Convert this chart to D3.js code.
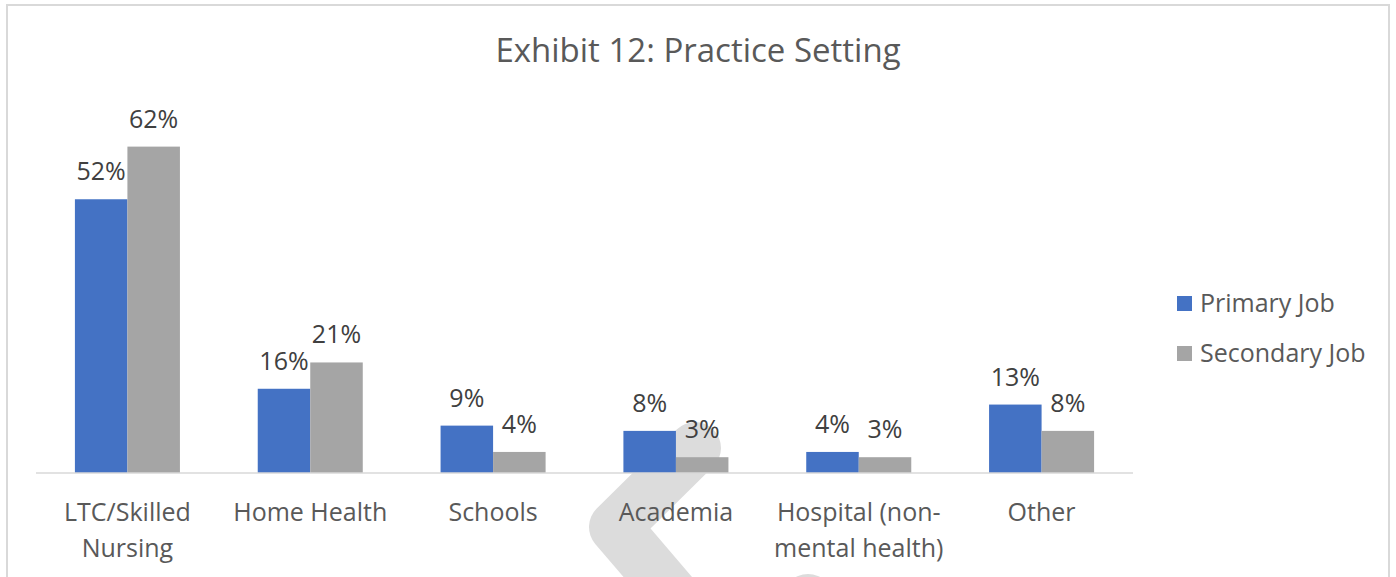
<!DOCTYPE html>
<html>
<head>
<meta charset="utf-8">
<script src="https://cdn.jsdelivr.net/npm/d3@7"></script>
<style>
  html, body { margin: 0; padding: 0; background: #fff; }
  svg { display: block; }
  text { font-family: "Open Sans", "Noto Sans", sans-serif; }
</style>
</head>
<body>
<svg id="chart" width="1396" height="577"></svg>
<script>
// Practice setting shares, in percent
const categories = [["LTC/Skilled", "Nursing"], ["Home Health"], ["Schools"], ["Academia"], ["Hospital (non-", "mental health)"], ["Other"]];
const seriesNames = ["Primary Job", "Secondary Job"];
const primaryJob = [52, 16, 9, 8, 4, 13];
const secondaryJob = [62, 21, 4, 3, 3, 8];
const colors = ["#4472C4", "#A5A5A5"];

const W = 1396, H = 577;
const svg = d3.select("#chart");
const catKeys = categories.map(c => c.join(" "));

// frame
svg.append("rect")
  .attr("x", 7).attr("y", 5)
  .attr("width", 1382).attr("height", H + 10)
  .attr("fill", "#fff")
  .attr("stroke", "#d9d9d9").attr("stroke-width", 2);

// faint background mark
const wm = svg.append("g").attr("fill", "none").attr("stroke", "#dcdcdc")
  .attr("stroke-width", 52).attr("stroke-linejoin", "round").attr("stroke-linecap", "round");
wm.append("path").attr("d", d3.line()([[695, 448], [615, 527], [686, 610]]));
wm.append("path").attr("d", d3.line()([[752, 656], [808, 600], [864, 656]]));

const plot = { left: 36, right: 1133, top: 104.5, bottom: 473 };

const x0 = d3.scaleBand()
  .domain(catKeys)
  .range([plot.left, plot.right])
  .paddingInner(0.4256)
  .paddingOuter(0.2128);

const x1 = d3.scaleBand()
  .domain(seriesNames)
  .range([0, x0.bandwidth()]);

const y = d3.scaleLinear().domain([0, 70]).range([plot.bottom, plot.top]);

// title
svg.append("text")
  .attr("x", 698).attr("y", 62)
  .attr("text-anchor", "middle")
  .attr("font-size", 33)
  .attr("fill", "#595959")
  .text("Exhibit 12: Practice Setting");

const rows = catKeys.map((k, i) => ({ key: k, values: [primaryJob[i], secondaryJob[i]] }));

const groups = svg.append("g").selectAll("g")
  .data(rows).join("g")
  .attr("transform", d => `translate(${x0(d.key)},0)`);

groups.selectAll("rect")
  .data(d => d.values.map((v, j) => ({ s: seriesNames[j], v, j })))
  .join("rect")
  .attr("x", d => x1(d.s))
  .attr("y", d => y(d.v))
  .attr("width", x1.bandwidth())
  .attr("height", d => y(0) - y(d.v))
  .attr("fill", d => colors[d.j]);

groups.selectAll("text.val")
  .data(d => d.values.map((v, j) => ({ s: seriesNames[j], v, j })))
  .join("text")
  .attr("class", "val")
  .attr("x", d => x1(d.s) + x1.bandwidth() / 2)
  .attr("y", d => y(d.v) - 19)
  .attr("text-anchor", "middle")
  .attr("font-size", 25)
  .attr("fill", "#404040")
  .text(d => d.v + "%");

// category axis
const xAxis = d3.axisBottom(x0).tickSize(0).tickFormat("");
const axisG = svg.append("g").attr("transform", `translate(0,${plot.bottom})`).call(xAxis);
axisG.select(".domain").attr("stroke", "#d9d9d9").attr("stroke-width", 1.5)
  .attr("d", `M${plot.left},0H${plot.right}`);

axisG.selectAll(".tick").each(function(d, i) {
  const t = d3.select(this).append("text")
    .attr("text-anchor", "middle")
    .attr("font-size", 25)
    .attr("fill", "#595959");
  categories[i].forEach((line, k) => {
    t.append("tspan").attr("x", 0).attr("y", 48 + k * 36).text(line);
  });
});

// legend
const legend = svg.append("g").attr("transform", "translate(1177,296)");
seriesNames.forEach((name, i) => {
  const g = legend.append("g").attr("transform", `translate(0,${i * 50})`);
  g.append("rect").attr("width", 15).attr("height", 15).attr("fill", colors[i]);
  g.append("text").attr("x", 23).attr("y", 16).attr("font-size", 25).attr("fill", "#595959").text(name);
});
</script>
</body>
</html>
